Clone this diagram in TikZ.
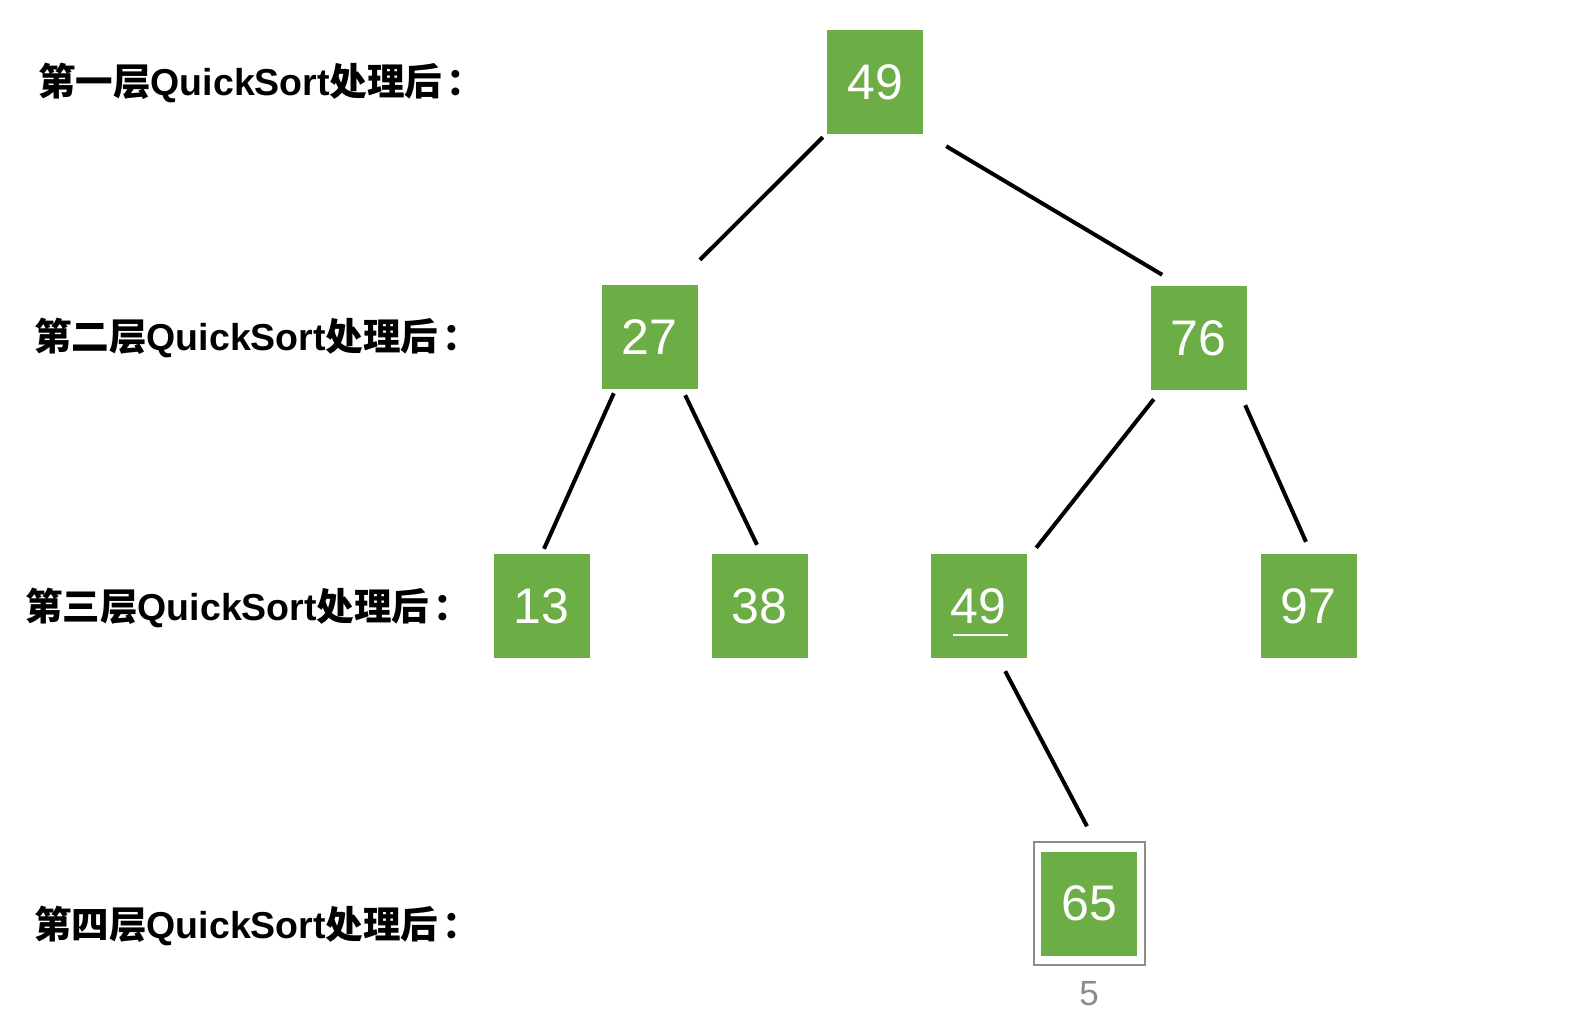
\documentclass[tikz,border=0pt]{standalone}
\usepackage{fontspec}
\setmainfont{Liberation Sans}
\newfontfamily\cjk{Noto Sans CJK SC}
\newfontfamily\lib{Liberation Sans}
\definecolor{boxgreen}{RGB}{109,173,69}
\definecolor{selgray}{RGB}{140,140,140}
\tikzset{
  numbox/.style={fill=boxgreen, draw=none, minimum width=96pt, minimum height=104pt, inner sep=0pt,
    text=white, font=\lib\fontsize{50}{50}\selectfont},
  edge/.style={line width=4pt, black},
  lvl/.style={anchor=west, inner sep=0pt, font=\fontsize{37.5}{37.5}\selectfont\bfseries}
}
\newcommand{\lvltext}[1]{{\cjk\bfseries 第#1层}{\lib\bfseries QuickSort}{\cjk\bfseries 处理后\hspace{4pt}：}}
\begin{document}
\begin{tikzpicture}[x=1pt,y=-1pt]
\useasboundingbox (0,0) rectangle (1571,1035);
% level labels
\node[lvl] (l1) at (38,83) {\lvltext{一}};
\node[lvl] (l2) at (34,338) {\lvltext{二}};
\node[lvl] (l3) at (25,608) {\lvltext{三}};
\node[lvl] (l4) at (34,926) {\lvltext{四}};
% boxes
\node[numbox] (a49) at (875,82) {49};
\node[numbox] (a27) at (649.5,337) {27};
\node[numbox] (a76) at (1198.5,338) {76};
\node[numbox] (a13) at (541.5,606) {13};
\node[numbox] (a38) at (759.5,606) {38};
\node[numbox] (b49) at (978.5,606) {49};
\node[numbox] (a97) at (1308.5,606) {97};
\node[numbox] (a65) at (1089,903.5) {65};
% underline of 49
\draw[white, line width=2pt] ([shift={(-25.5,29)}]b49.center) -- ([shift={(29.5,29)}]b49.center);
% selection frame around 65
\node[draw=selgray, line width=1.5pt, minimum width=111pt, minimum height=123pt, inner sep=0pt] (sel) at (1089.5,903.5) {};
\node[text=selgray, font=\lib\fontsize{35}{35}\selectfont, inner sep=0pt] (five) at (1089,994) {5};
% connectors
\draw[edge] ([shift={(-4,3)}]a49.south west) -- ([shift={(50.5,-25)}]a27.north);
\draw[edge] ([shift={(23,12)}]a49.south east) -- ([shift={(-84.5,-11)}]a76.north east);
\draw[edge] ([shift={(12.5,4)}]a27.south west) -- ([shift={(2.5,-5)}]a13.north);
\draw[edge] ([shift={(-12.5,6)}]a27.south east) -- ([shift={(-2.5,-9)}]a38.north);
\draw[edge] ([shift={(3.5,9)}]a76.south west) -- ([shift={(9.5,-6)}]b49.north east);
\draw[edge] ([shift={(-1.5,15)}]a76.south east) -- ([shift={(-2.5,-12)}]a97.north);
\draw[edge] ([shift={(-21.5,13)}]b49.south east) -- ([shift={(-2,-25)}]a65.north);
\end{tikzpicture}
\end{document}
